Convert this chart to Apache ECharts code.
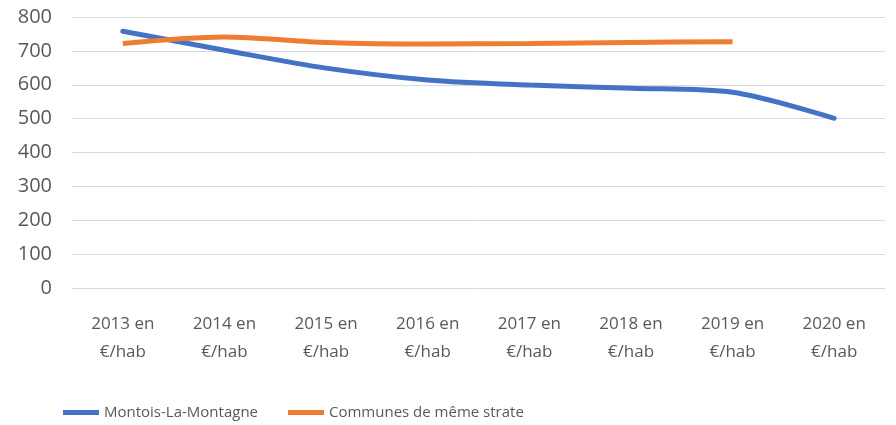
<!DOCTYPE html>
<html>
<head>
<meta charset="utf-8">
<script src="https://cdn.jsdelivr.net/npm/echarts@6/dist/echarts.min.js"></script>
<style>
  html, body { margin: 0; padding: 0; background: #fff; }
  #chart { width: 896px; height: 425px; }
</style>
</head>
<body>
<div id="chart"></div>
<script>
const categories = ['2013 en\n€/hab', '2014 en\n€/hab', '2015 en\n€/hab', '2016 en\n€/hab',
  '2017 en\n€/hab', '2018 en\n€/hab', '2019 en\n€/hab', '2020 en\n€/hab']
const montois = [758, 702, 649, 614, 599, 590, 578, 501]
const communes = [722, 741, 725, 720, 722, 725, 727, null]

const font = '"Open Sans", sans-serif'
const chart = echarts.init(document.getElementById('chart'))
chart.setOption({
  animation: false,
  grid: {
    left: 72,
    right: 11,
    top: 17,
    bottom: 137
  },
  legend: {
    top: 400,
    left: 58,
    itemWidth: 36,
    itemHeight: 5,
    itemGap: 30,
    icon: 'rect',
    textStyle: { color: '#595959', fontSize: 15, fontFamily: font },
    data: ['Montois-La-Montagne', 'Communes de même strate']
  },
  xAxis: {
    type: 'category',
    data: categories,
    axisLine: { show: false },
    axisTick: { show: false },
    axisLabel: {
      color: '#595959',
      fontSize: 17,
      fontFamily: font,
      lineHeight: 28,
      margin: 22,
      interval: 0
    }
  },
  yAxis: {
    type: 'value',
    min: 0,
    max: 800,
    interval: 100,
    axisLine: { show: false },
    axisTick: { show: false },
    splitLine: { lineStyle: { color: '#d9d9d9', width: 1 } },
    axisLabel: {
      color: '#595959',
      fontSize: 20,
      fontFamily: font,
      margin: 20
    }
  },
  series: [
    {
      name: 'Montois-La-Montagne',
      type: 'line',
      data: montois,
      smooth: 0.3,
      showSymbol: false,
      itemStyle: { color: '#4472C4' },
      lineStyle: { color: '#4472C4', width: 5, cap: 'round' }
    },
    {
      name: 'Communes de même strate',
      type: 'line',
      data: communes,
      smooth: 0.3,
      showSymbol: false,
      itemStyle: { color: '#ED7D31' },
      lineStyle: { color: '#ED7D31', width: 5, cap: 'butt' }
    }
  ]
})
</script>
</body>
</html>
